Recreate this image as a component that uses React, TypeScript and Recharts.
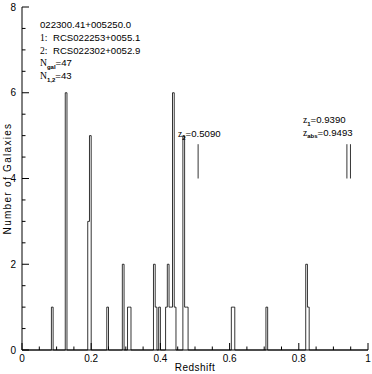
import { ComposedChart, Line, XAxis, YAxis, ReferenceLine, Label } from "recharts";

// histogram bins (left edge, width 0.005) and galaxy counts
const binWidth = 0.005;
const binStarts = [
  0.085, 0.125, 0.19, 0.195, 0.245, 0.29, 0.305, 0.31, 0.38, 0.385, 0.395, 0.415, 0.42,
  0.425, 0.43, 0.435, 0.44, 0.465, 0.47, 0.475, 0.605, 0.61, 0.705, 0.82, 0.825,
];
const binCounts = [1, 6, 3, 5, 1, 2, 1, 1, 2, 1, 1, 1, 2, 1, 1, 6, 1, 5, 1, 1, 1, 1, 1, 2, 1];

const xTicks = [0, 0.2, 0.4, 0.6, 0.8, 1];
const xMinorTicks = [
  0, 0.05, 0.1, 0.15, 0.2, 0.25, 0.3, 0.35, 0.4, 0.45, 0.5, 0.55, 0.6, 0.65, 0.7, 0.75, 0.8,
  0.85, 0.9, 0.95, 1,
];
const yTicks = [0, 2, 4, 6, 8];
const yMinorTicks = [0, 0.5, 1, 1.5, 2, 2.5, 3, 3.5, 4, 4.5, 5, 5.5, 6, 6.5, 7, 7.5, 8];

// redshift markers
const markerZ = [0.509, 0.939, 0.9493];
const markerRange = [4, 4.8];

const SANS = "'Liberation Sans', Arial, sans-serif";
const SERIF = "'Liberation Serif', 'Times New Roman', serif";
const MAJOR = 7;
const MINOR = 3.5;

function buildSteps() {
  const pts: { z: number; n: number }[] = [{ z: 0, n: 0 }];
  binStarts.forEach((start, i) => {
    pts.push({ z: start, n: binCounts[i] });
    const end = start + binWidth;
    const next = binStarts[i + 1];
    if (next === undefined || Math.abs(next - end) > 1e-6) pts.push({ z: end, n: 0 });
  });
  pts.push({ z: 1, n: 0 });
  return pts;
}

const steps = buildSteps();

function BottomTick({ x, y, payload }: any) {
  const major = xTicks.includes(payload.value);
  return (
    <g>
      <line x1={x} x2={x} y1={y} y2={y - (major ? MAJOR : MINOR)} stroke="#000" />
      {major && (
        <text x={x} y={y + 12} textAnchor="middle" fontSize={10} fontFamily={SANS} fill="#000">
          {String(payload.value)}
        </text>
      )}
    </g>
  );
}

function TopTick({ x, y, payload }: any) {
  const major = xTicks.includes(payload.value);
  return <line x1={x} x2={x} y1={y} y2={y + (major ? MAJOR : MINOR)} stroke="#000" />;
}

function LeftTick({ x, y, payload }: any) {
  const major = yTicks.includes(payload.value);
  return (
    <g>
      <line x1={x} x2={x + (major ? MAJOR : MINOR)} y1={y} y2={y} stroke="#000" />
      {major && (
        <text x={x - 6} y={y + 3.5} textAnchor="end" fontSize={10} fontFamily={SANS} fill="#000">
          {String(payload.value)}
        </text>
      )}
    </g>
  );
}

function RightTick({ x, y, payload }: any) {
  const major = yTicks.includes(payload.value);
  return <line x1={x} x2={x - (major ? MAJOR : MINOR)} y1={y} y2={y} stroke="#000" />;
}

function YTitle({ viewBox }: any) {
  const cy = viewBox.y + viewBox.height / 2;
  return (
    <text
      x={7}
      y={cy}
      transform={`rotate(-90 7 ${cy})`}
      textAnchor="middle"
      dominantBaseline="central"
      fontSize={10}
      letterSpacing={1.3}
      fontFamily={SANS}
    >
      Number of Galaxies
    </text>
  );
}

export default function App() {
  return (
    <div style={{ position: "absolute", left: 0, top: 0, width: 372, height: 374, background: "#fff" }}>
      <ComposedChart width={372} height={374} data={steps} margin={{ top: 7, right: 4, bottom: 0, left: 0 }}>
        <XAxis
          xAxisId="b"
          dataKey="z"
          type="number"
          domain={[0, 1]}
          ticks={xMinorTicks}
          interval={0}
          tickSize={0}
          tickMargin={0}
          tickLine={false}
          tick={<BottomTick />}
          axisLine={{ stroke: "#000" }}
          height={24}
        >
          <Label
            value="Redshift"
            position="insideBottom"
            offset={3}
            style={{ fontSize: 10, fontFamily: SANS, fill: "#000", letterSpacing: 0.5 }}
          />
        </XAxis>
        <XAxis
          xAxisId="t"
          orientation="top"
          dataKey="z"
          type="number"
          domain={[0, 1]}
          ticks={xMinorTicks}
          interval={0}
          tickSize={0}
          tickMargin={0}
          tickLine={false}
          tick={<TopTick />}
          axisLine={{ stroke: "#000" }}
          height={0}
        />
        <YAxis
          yAxisId="l"
          type="number"
          domain={[0, 8]}
          ticks={yMinorTicks}
          interval={0}
          tickSize={0}
          tickMargin={0}
          tickLine={false}
          tick={<LeftTick />}
          axisLine={{ stroke: "#000" }}
          width={22}
        >
          <Label content={<YTitle />} />
        </YAxis>
        <YAxis
          yAxisId="r"
          orientation="right"
          type="number"
          domain={[0, 8]}
          ticks={yMinorTicks}
          interval={0}
          tickSize={0}
          tickMargin={0}
          tickLine={false}
          tick={<RightTick />}
          axisLine={{ stroke: "#000" }}
          width={0}
        />
        <Line
          xAxisId="t"
          yAxisId="r"
          type="stepAfter"
          dataKey="n"
          stroke="none"
          dot={false}
          legendType="none"
          isAnimationActive={false}
        />
        <Line
          xAxisId="b"
          yAxisId="l"
          type="stepAfter"
          dataKey="n"
          stroke="#000"
          strokeWidth={0.8}
          dot={false}
          isAnimationActive={false}
        />
        {markerZ.map((z) => (
          <ReferenceLine
            key={z}
            xAxisId="b"
            yAxisId="l"
            segment={[{ x: z, y: markerRange[0] }, { x: z, y: markerRange[1] }]}
            stroke="#000"
            strokeWidth={0.8}
          />
        ))}
      </ComposedChart>
      <svg width={372} height={374} style={{ position: "absolute", left: 0, top: 0, pointerEvents: "none" }}>
        <g fontSize={9.6} fontFamily={SANS} fill="#000">
          <text x={40} y={28}>022300.41+005250.0</text>
          <text x={40} y={41}>
            <tspan fontFamily={SERIF}>1:</tspan>
            <tspan x={53}>RCS022253+0055.1</tspan>
          </text>
          <text x={40} y={53.5}>
            <tspan fontFamily={SERIF}>2:</tspan>
            <tspan x={53}>RCS022302+0052.9</tspan>
          </text>
          <text x={40} y={66}>
            <tspan fontFamily={SERIF}>N</tspan>
            <tspan fontSize={6} dy={2.5} fontWeight="bold">gal</tspan>
            <tspan dy={-2.5}>=47</tspan>
          </text>
          <text x={40} y={79}>
            <tspan fontFamily={SERIF}>N</tspan>
            <tspan fontSize={6} dy={2.5} fontWeight="bold">1,2</tspan>
            <tspan dy={-2.5}>=43</tspan>
          </text>
          <text x={178} y={137}>
            <tspan fontFamily={SERIF}>z</tspan>
            <tspan fontSize={6} dy={2.5} fontWeight="bold">2</tspan>
            <tspan dy={-2.5}>=0.5090</tspan>
          </text>
          <text x={303} y={123}>
            <tspan fontFamily={SERIF}>z</tspan>
            <tspan fontSize={6} dy={2.5} fontWeight="bold">1</tspan>
            <tspan dy={-2.5}>=0.9390</tspan>
          </text>
          <text x={303} y={135.5}>
            <tspan fontFamily={SERIF}>z</tspan>
            <tspan fontSize={6} dy={2.5} fontWeight="bold">abs</tspan>
            <tspan dy={-2.5}>=0.9493</tspan>
          </text>
        </g>
      </svg>
    </div>
  );
}
